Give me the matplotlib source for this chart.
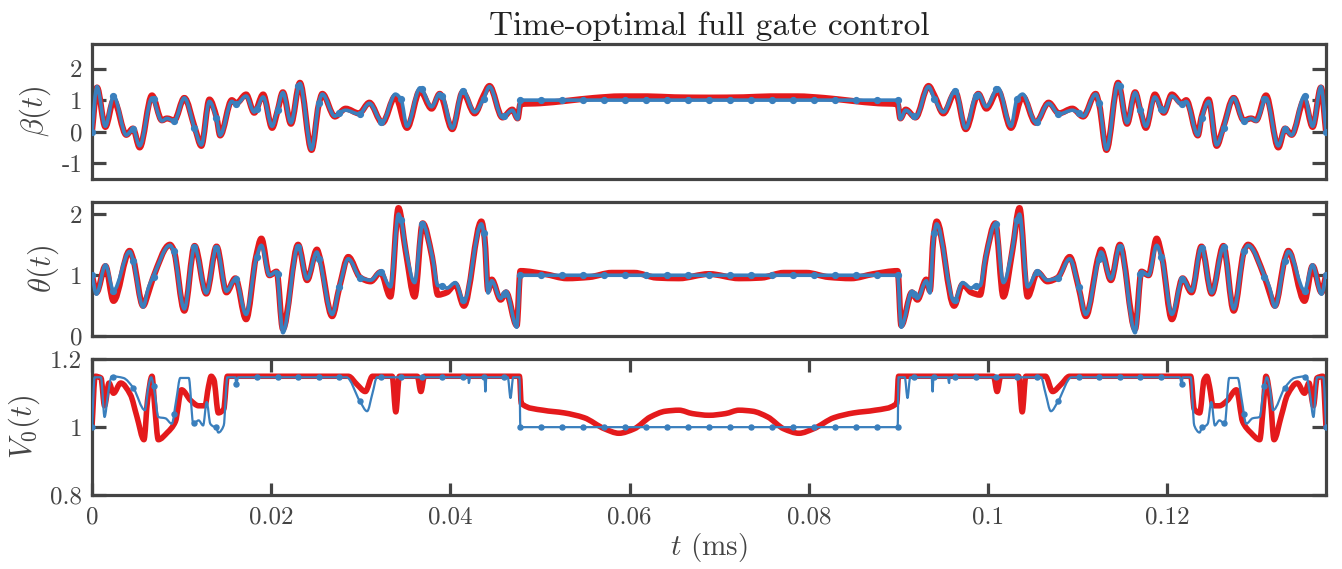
import numpy as np
import matplotlib
matplotlib.use("Agg")
import matplotlib.pyplot as plt
from matplotlib.path import Path
from matplotlib.patches import PathPatch

plt.rcParams['font.family'] = 'serif'
plt.rcParams['font.serif'] = ['cmr10', 'DejaVu Serif']
plt.rcParams['mathtext.fontset'] = 'cm'
plt.rcParams['axes.formatter.use_mathtext'] = True

# ---------------- data (time in units of 1e-3 ms) ----------------
T_END = 137.7

# shared sample (dot) times of the blue piecewise control
dot_t = [0, 2.3, 4.6, 6.9, 9.1, 11.4, 13.8, 16.1, 18.4, 20.7, 23.0, 25.3, 27.6, 29.9, 32.2, 34.5, 36.8, 39.1, 41.4, 43.7, 46.0, 47.8,
         50.14, 52.48, 54.82, 57.16, 59.49, 61.83, 64.17, 66.51, 68.85, 71.19, 73.53, 75.87, 78.21, 80.54, 82.88, 85.22, 87.56,
         89.9, 91.7, 94.0, 96.3, 98.6, 100.9, 103.2, 105.5, 107.8, 110.1, 112.4, 114.7, 117.0, 119.3, 121.6, 123.9, 126.3, 128.6,
         130.8, 133.1, 135.4, 137.7]

# ---- beta(t) ----
beta_t = [0, 0.56, 1.49, 2.42, 3.83, 4.57, 5.32, 6.69, 7.8, 8.36, 9.18, 10.3, 11.5, 12.2, 13.1, 13.9, 14.3, 15.6, 16.1, 17.2,
          18.1, 19.1, 20.1, 20.7, 21.3, 22.2, 23.2, 24.5, 25.3, 25.7, 27.1, 28.3, 29.8, 30.95, 32.4, 33.85, 35.15, 36.6, 37.9,
          38.8, 40.2, 41.36, 42.7, 43.7, 44.35, 45.8, 46.9, 47.5, 47.8,
          50, 53, 56, 59, 62, 65, 68.85, 72.7, 75.7, 78.7, 81.7, 84.7, 87.7,
          89.9, 90.2, 90.8, 91.9, 93.35, 94.0, 95.0, 96.34, 97.5, 98.9, 99.8, 101.1, 102.55, 103.85, 105.3, 106.75, 107.9,
          109.4, 110.6, 112.0, 112.4, 113.2, 114.5, 115.5, 116.4, 117.0, 117.6, 118.6, 119.6, 120.5, 121.6, 122.1, 123.4,
          123.8, 124.6, 125.5, 126.2, 127.4, 128.52, 129.34, 129.9, 131.01, 132.38, 133.13, 133.87, 135.28, 136.21, 137.14, 137.7]
beta_blue = [0.0, 1.43, 0.17, 1.13, -0.11, 0.08, -0.45, 1.07, 0.34, 0.42, 0.34, 1.07, 0.06, -0.42, 0.96, 0.4, -0.11, 0.96, 0.87,
             1.13, 0.62, 1.1, 0.17, 0.7, 1.24, 0.28, 1.53, -0.56, 0.9, 1.19, 0.49, 0.68, 0.56, 0.9, 0.3, 1.19, 0.17, 1.39, 0.79,
             1.21, 0.11, 1.32, 0.62, 1.05, 1.43, 0.45, 0.68, 0.40, 1.0,
             1.0, 1.0, 1.0, 1.0, 1.0, 1.0, 1.0, 1.0, 1.0, 1.0, 1.0, 1.0, 1.0,
             1.0, 0.40, 0.68, 0.45, 1.43, 1.05, 0.62, 1.32, 0.11, 1.21, 0.79, 1.39, 0.17, 1.19, 0.3, 0.9, 0.56, 0.68, 0.49,
             1.19, 0.9, -0.56, 1.53, 0.28, 1.24, 0.7, 0.17, 1.1, 0.62, 1.13, 0.87, 0.96, -0.11, 0.4, 0.96, -0.42, 0.06, 1.07,
             0.34, 0.42, 0.34, 1.07, -0.45, 0.08, -0.11, 1.13, 0.17, 1.43, 0.0]
beta_red = [0.0, 1.40, 0.15, 1.0, -0.1, 0.1, -0.5, 1.15, 0.36, 0.42, 0.36, 1.07, 0.1, -0.45, 1.02, 0.45, -0.12, 1.0, 0.9, 1.18,
            0.6, 1.18, 0.12, 0.65, 1.25, 0.25, 1.55, -0.58, 0.85, 1.2, 0.48, 0.73, 0.58, 0.92, 0.28, 1.12, 0.12, 1.3, 0.73,
            1.2, 0.08, 1.25, 0.58, 1.15, 1.45, 0.45, 0.7, 0.42, 0.87,
            0.9, 0.98, 1.07, 1.12, 1.12, 1.09, 1.08, 1.09, 1.12, 1.12, 1.07, 0.98, 0.9,
            0.87, 0.42, 0.7, 0.45, 1.45, 1.15, 0.58, 1.25, 0.08, 1.2, 0.73, 1.3, 0.12, 1.12, 0.28, 0.92, 0.58, 0.73, 0.48,
            1.2, 0.85, -0.58, 1.55, 0.25, 1.25, 0.65, 0.12, 1.18, 0.6, 1.18, 0.9, 1.0, -0.12, 0.45, 1.02, -0.45, 0.1, 1.07,
            0.36, 0.42, 0.36, 1.15, -0.5, 0.1, -0.1, 1.0, 0.15, 1.40, 0.0]
beta_dot = [0.0, 1.13, 0.08, 1.05, 0.34, 0.12, 0.42, 0.87, 0.73, 0.7, 1.45, 0.9, 0.59, 0.56, 0.3, 1.02, 1.35, 1.13, 1.3, 1.05, 0.5, 1.0,
            1.0, 1.0, 1.0, 1.0, 1.0, 1.0, 1.0, 1.0, 1.0, 1.0, 1.0, 1.0, 1.0, 1.0, 1.0, 1.0, 1.0,
            1.0, 0.5, 1.05, 1.3, 1.13, 1.35, 1.02, 0.3, 0.56, 0.59, 0.9, 1.45, 0.7, 0.73, 0.87, 0.42, 0.12, 0.34, 1.05, 0.08, 1.13, 0.0]

# ---- theta(t) ----
theta_t = [0, 0.5, 1.5, 2.4, 4.2, 4.6, 5.7, 6.3, 6.8, 8.7, 9.1, 10.3, 11.45, 12.75, 13.9, 15.0, 16.0, 17.2, 18.3, 18.9, 19.8,
           20.6, 21.3, 23.0, 24.0, 25.1, 25.4, 26.8, 27.6, 28.6, 29.95, 31.1, 32.2, 33.3, 34.2, 35.0, 36.0, 36.9, 37.95, 38.6,
           39.6, 40.55, 41.5, 43.45, 43.8, 44.2, 44.6, 45.6, 46.2, 47.4, 47.8,
           50.5, 53, 55.5, 58, 60.5, 63, 65.5, 68.85, 72.2, 74.7, 77.2, 79.7, 82.2, 84.7, 87.2,
           89.9, 90.3, 91.5, 92.1, 93.1, 93.5, 93.9, 94.25, 96.2, 97.15, 98.1, 99.1, 99.75, 100.8, 101.7, 102.7, 103.5, 104.4,
           105.5, 106.6, 107.75, 109.1, 110.1, 110.9, 112.3, 112.6, 113.7, 114.7, 116.4, 117.1, 117.9, 118.8, 119.4, 120.5,
           121.7, 122.7, 123.8, 124.95, 126.25, 127.4, 128.6, 129.0, 130.9, 131.4, 132.0, 133.1, 133.5, 135.3, 136.2, 137.2, 137.7]
theta_blue = [1.0, 0.69, 1.17, 0.75, 1.39, 1.24, 0.48, 0.8, 0.97, 1.49, 1.40, 0.45, 1.46, 0.71, 1.46, 0.74, 0.94, 0.36, 1.26,
              1.49, 1.0, 1.06, 0.06, 1.48, 0.94, 1.38, 1.25, 0.36, 0.81, 1.27, 0.96, 0.92, 1.06, 0.81, 2.0, 1.43, 0.88, 1.84,
              1.32, 0.83, 0.79, 0.88, 0.57, 1.84, 1.6, 0.71, 0.91, 0.62, 0.74, 0.15, 1.0,
              1.0, 1.0, 1.0, 1.0, 1.0, 1.0, 1.0, 1.0, 1.0, 1.0, 1.0, 1.0, 1.0, 1.0, 1.0,
              1.0, 0.15, 0.74, 0.62, 0.91, 0.71, 1.6, 1.84, 0.57, 0.88, 0.79, 0.83, 1.32, 1.84, 0.88, 1.43, 2.0, 0.81, 1.06,
              0.92, 0.96, 1.27, 0.81, 0.36, 1.25, 1.38, 0.94, 1.48, 0.06, 1.06, 1.0, 1.49, 1.26, 0.36, 0.94, 0.74, 1.46, 0.71,
              1.46, 0.45, 1.40, 1.49, 0.97, 0.8, 0.48, 1.24, 1.39, 0.75, 1.17, 0.69, 1.0]
theta_red = [1.0, 0.72, 1.15, 0.58, 1.4, 1.26, 0.5, 0.72, 0.95, 1.5, 1.42, 0.42, 1.48, 0.7, 1.47, 0.72, 0.95, 0.28, 1.3, 1.6,
             1.0, 1.06, 0.12, 1.5, 0.92, 1.42, 1.3, 0.33, 0.8, 1.3, 0.96, 0.9, 1.05, 0.65, 2.1, 1.4, 0.65, 1.85, 1.3, 0.68,
             0.72, 0.85, 0.5, 1.88, 1.62, 0.75, 0.93, 0.6, 0.72, 0.18, 1.07,
             1.02, 0.95, 0.97, 1.04, 1.04, 0.96, 0.95, 1.02, 0.95, 0.96, 1.04, 1.04, 0.97, 0.95, 1.02,
             1.07, 0.18, 0.72, 0.6, 0.93, 0.75, 1.62, 1.88, 0.5, 0.85, 0.72, 0.68, 1.3, 1.85, 0.65, 1.4, 2.1, 0.65, 1.05,
             0.9, 0.96, 1.3, 0.8, 0.33, 1.3, 1.42, 0.92, 1.5, 0.12, 1.06, 1.0, 1.6, 1.3, 0.28, 0.95, 0.72, 1.47, 0.7, 1.48,
             0.42, 1.42, 1.5, 0.95, 0.72, 0.5, 1.26, 1.4, 0.58, 1.15, 0.72, 1.0]
theta_dot = [1.0, 0.75, 1.24, 0.97, 1.40, 1.46, 1.44, 0.94, 1.3, 1.02, 1.46, 1.26, 0.81, 0.96, 1.06, 1.9, 1.84, 0.83, 0.6, 1.69, 0.7, 1.0,
             1.0, 1.0, 1.0, 1.0, 1.0, 1.0, 1.0, 1.0, 1.0, 1.0, 1.0, 1.0, 1.0, 1.0, 1.0, 1.0, 1.0,
             1.0, 0.7, 1.69, 0.6, 0.83, 1.84, 1.9, 1.06, 0.96, 0.81, 1.26, 1.46, 1.02, 1.3, 0.94, 1.44, 1.46, 1.40, 0.97, 1.24, 0.75, 1.0]

# ---- V0(t) ----
v0_blue_t = [0, 0.3, 1.0, 1.4, 1.8, 2.2, 3.5, 4.6, 5.9, 6.3, 6.6, 7.0, 7.4, 8.2, 8.9, 9.4, 9.85, 10.8, 11.3, 11.9, 12.4, 12.8,
             13.2, 13.9, 14.1, 14.7, 15.1, 16.0, 16.1, 16.3, 28.4, 29.9, 30.7, 31.3, 31.8, 42.0, 42.05, 42.2, 43.8, 43.9, 44.0,
             46.4, 46.7, 47.0, 47.7, 47.8,
             89.9, 90.0, 90.7, 91.0, 91.3, 93.7, 93.8, 93.9, 95.5, 95.65, 95.7, 105.9, 106.4, 107.0, 107.8, 109.3, 121.4, 121.6,
             121.7, 122.6, 123.0, 123.6, 123.8, 124.5, 124.9, 125.3, 125.8, 126.4, 126.9, 127.85, 128.3, 128.8, 129.5, 130.3,
             130.7, 131.1, 131.4, 131.8, 133.1, 134.2, 135.5, 135.9, 136.3, 136.7, 137.4, 137.7]
v0_blue = [1.0, 1.147, 1.147, 1.03, 1.10, 1.15, 1.145, 1.116, 1.05, 1.12, 1.147, 1.10, 1.03, 1.026, 1.01, 1.08, 1.145, 1.145,
           1.01, 1.02, 1.005, 1.074, 1.01, 0.995, 0.984, 1.005, 1.147, 1.147, 1.126, 1.147, 1.147, 1.076, 1.047, 1.10, 1.147,
           1.147, 1.13, 1.147, 1.147, 1.105, 1.147, 1.147, 1.086, 1.147, 1.147, 1.0,
           1.0, 1.147, 1.147, 1.086, 1.147, 1.147, 1.105, 1.147, 1.147, 1.13, 1.147, 1.147, 1.10, 1.047, 1.076, 1.147, 1.147,
           1.126, 1.147, 1.147, 1.005, 0.984, 0.995, 1.01, 1.074, 1.005, 1.02, 1.01, 1.145, 1.145, 1.08, 1.01, 1.026, 1.03,
           1.10, 1.147, 1.12, 1.05, 1.116, 1.145, 1.15, 1.10, 1.03, 1.147, 1.147, 1.0]
v0_red_t = [0, 0.35, 1.0, 1.4, 1.9, 2.4, 3.2, 4.3, 5.0, 5.8, 6.2, 6.7, 7.0, 7.4, 8.4, 9.3, 10.0, 11.0, 11.9, 12.6, 13.0, 13.3,
            13.6, 14.1, 14.7, 15.1, 28.6, 29.6, 30.5, 31.3, 33.5, 33.9, 34.3, 36.3, 36.7, 37.1, 47.7, 47.9, 50.3, 52.7, 54.9,
            57.2, 58.8, 60.5, 62.3, 64.0, 65.5, 67.0, 68.85,
            70.7, 72.2, 73.7, 75.4, 77.2, 78.9, 80.5, 82.8, 85.0, 87.4, 89.8, 90.0, 100.6, 101.0, 101.4, 103.4, 103.8, 104.2,
            106.4, 107.2, 108.1, 109.1, 122.6, 123.0, 123.6, 124.1, 124.4, 124.7, 125.1, 125.8, 126.7, 127.7, 128.4, 129.3,
            130.3, 130.7, 131.0, 131.5, 131.9, 132.7, 133.4, 134.5, 135.3, 135.8, 136.3, 136.7, 137.35, 137.7]
v0_red = [1.0, 1.15, 1.145, 1.063, 1.13, 1.10, 1.13, 1.095, 1.032, 0.963, 1.08, 1.15, 1.06, 0.963, 0.984, 1.016, 1.11, 1.079,
          1.063, 1.063, 1.12, 1.15, 1.14, 1.042, 1.053, 1.15, 1.15, 1.125, 1.105, 1.15, 1.15, 1.045, 1.15, 1.15, 1.105, 1.15,
          1.15, 1.07, 1.05, 1.042, 1.028, 0.995, 0.982, 0.995, 1.03, 1.047, 1.05, 1.04, 1.035,
          1.04, 1.05, 1.047, 1.03, 0.995, 0.982, 0.995, 1.028, 1.042, 1.05, 1.07, 1.15, 1.15, 1.105, 1.15, 1.15, 1.045, 1.15,
          1.15, 1.105, 1.125, 1.15, 1.15, 1.053, 1.042, 1.14, 1.15, 1.12, 1.063, 1.063, 1.079, 1.11, 1.016, 0.984, 0.963,
          1.06, 1.15, 1.08, 0.963, 1.032, 1.095, 1.13, 1.10, 1.13, 1.063, 1.145, 1.15, 1.0]
v0_dot = [1.0, 1.147, 1.116, 1.12, 1.04, 1.012, 1.0, 1.126, 1.147, 1.147, 1.147, 1.147, 1.147, 1.076, 1.147, 1.147, 1.147, 1.147,
          1.147, 1.147, 1.147, 1.0,
          1.0, 1.0, 1.0, 1.0, 1.0, 1.0, 1.0, 1.0, 1.0, 1.0, 1.0, 1.0, 1.0, 1.0, 1.0, 1.0, 1.0,
          1.0, 1.147, 1.147, 1.147, 1.147, 1.147, 1.147, 1.147, 1.076, 1.147, 1.147, 1.147, 1.147, 1.147, 1.126, 1.0, 1.012,
          1.04, 1.12, 1.116, 1.147, 1.0]

x_ticks = [0, 0.02, 0.04, 0.06, 0.08, 0.1, 0.12]
x_ticklabels = ['0', '0.02', '0.04', '0.06', '0.08', '0.1', '0.12']
panels = [
    dict(ylabel=r'$\beta(t)$', ylim=(-1.51, 2.77), yticks=[-1, 0, 1, 2], ylabels=['-1', '0', '1', '2']),
    dict(ylabel=r'$\theta(t)$', ylim=(0, 2.19), yticks=[0, 1, 2], ylabels=['0', '1', '2']),
    dict(ylabel=r'$V_0(t)$', ylim=(0.8, 1.2), yticks=[0.8, 1.0, 1.2], ylabels=['0.8', '1', '1.2']),
]

RED = '#e41a1c'
BLUE = '#3a7fbd'
GRAY = '#444444'


def to_ms(a):
    return np.asarray(a, dtype=float) / 1000.0


def merged(line_t, line_v, pt_t, pt_v, tol=0.25):
    """Blue line passes through its own sample dots (dots close to a read line point are skipped)."""
    lt = np.asarray(line_t, float)
    keep = [i for i, t in enumerate(pt_t) if np.min(np.abs(lt - t)) > tol]
    t = np.concatenate([lt, np.asarray(pt_t, float)[keep]])
    v = np.concatenate([np.asarray(line_v, float), np.asarray(pt_v, float)[keep]])
    o = np.argsort(t, kind='stable')
    return t[o], v[o]


def smooth_line(ax, x, y, **kw):
    """Draw a smooth (monotone cubic Bezier) line through the given points."""
    x = np.asarray(x, float)
    y = np.asarray(y, float)
    h = np.diff(x)
    d = np.where(h > 0, np.diff(y) / np.where(h > 0, h, 1), 0.0)
    m = np.zeros_like(y)
    for k in range(1, len(y) - 1):
        if h[k - 1] <= 0 or h[k] <= 0 or d[k - 1] * d[k] <= 0:
            m[k] = 0.0
        else:
            w1 = 2 * h[k] + h[k - 1]
            w2 = h[k] + 2 * h[k - 1]
            m[k] = (w1 + w2) / (w1 / d[k - 1] + w2 / d[k])
    m[0] = d[0]
    m[-1] = d[-1]
    verts = [(x[0], y[0])]
    codes = [Path.MOVETO]
    for k in range(len(x) - 1):
        if h[k] <= 0:
            verts.append((x[k + 1], y[k + 1]))
            codes.append(Path.LINETO)
            continue
        verts += [(x[k] + h[k] / 3, y[k] + m[k] * h[k] / 3),
                  (x[k + 1] - h[k] / 3, y[k + 1] - m[k + 1] * h[k] / 3),
                  (x[k + 1], y[k + 1])]
        codes += [Path.CURVE4] * 3
    patch = PathPatch(Path(verts, codes), fill=False, capstyle='round', joinstyle='round', **kw)
    ax.add_patch(patch)
    return patch


W, H = 1342, 569
fig = plt.figure(figsize=(W / 100, H / 100), dpi=100)
boxes = [(92, 44.3, 179.3), (92, 202.5, 336.4), (92, 359.3, 495.0)]
axes = []
for (lx, top, bot) in boxes:
    ax = fig.add_axes([lx / W, 1 - bot / H, (1326 - lx) / W, (bot - top) / H])
    axes.append(ax)

# beta
ax = axes[0]
smooth_line(ax, to_ms(beta_t), beta_red, edgecolor=RED, lw=4.4, zorder=2)
bt, bv = merged(beta_t, beta_blue, dot_t, beta_dot)
smooth_line(ax, to_ms(bt), bv, edgecolor=BLUE, lw=2.6, zorder=3)
ax.plot(to_ms(dot_t), beta_dot, ls='none', marker='o', ms=4.2, color=BLUE, zorder=4)

# theta
ax = axes[1]
smooth_line(ax, to_ms(theta_t), theta_red, edgecolor=RED, lw=4.4, zorder=2)
tt, tv = merged(theta_t, theta_blue, dot_t, theta_dot)
smooth_line(ax, to_ms(tt), tv, edgecolor=BLUE, lw=2.6, zorder=3)
ax.plot(to_ms(dot_t), theta_dot, ls='none', marker='o', ms=4.2, color=BLUE, zorder=4)

# V0
ax = axes[2]
smooth_line(ax, to_ms(v0_red_t), v0_red, edgecolor=RED, lw=4.0, zorder=2)
smooth_line(ax, to_ms(v0_blue_t), v0_blue, edgecolor=BLUE, lw=1.6, zorder=3)
ax.plot(to_ms(dot_t), v0_dot, ls='none', marker='o', ms=3.6, color=BLUE, zorder=4)

for i, (ax, p) in enumerate(zip(axes, panels)):
    ax.set_xlim(0, T_END / 1000.0)
    ax.set_ylim(*p['ylim'])
    ax.set_yticks(p['yticks'])
    ax.set_yticklabels(p['ylabels'])
    ax.set_ylabel(p['ylabel'], fontsize=22, color=GRAY, labelpad=6)
    for s in ax.spines.values():
        s.set_linewidth(2.3)
        s.set_color(GRAY)
    ax.tick_params(axis='y', which='both', direction='in', left=True, right=True, length=10, width=2.3,
                   color=GRAY, labelcolor=GRAY, labelsize=18, pad=7)
    if i < 2:
        ax.tick_params(axis='x', which='both', bottom=False, top=False, labelbottom=False)
    else:
        ax.set_xticks(x_ticks)
        ax.set_xticklabels(x_ticklabels)
        ax.tick_params(axis='x', which='both', direction='in', bottom=True, top=True, length=9, width=2.3,
                       color=GRAY, labelcolor=GRAY, labelsize=18, pad=8)
        ax.set_xlabel(r'$t$ (ms)', fontsize=21, color=GRAY, labelpad=2)

axes[0].set_title('Time-optimal full gate control', fontsize=24, color='#222222', pad=7)

fig.savefig('out.png', dpi=100)
